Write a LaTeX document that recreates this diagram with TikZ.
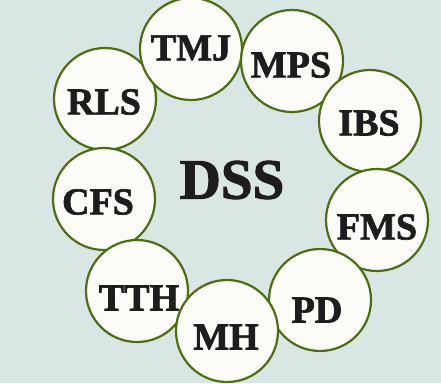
\documentclass[tikz,border=0pt]{standalone}
\usepackage{fontspec}
\setmainfont{Liberation Serif}[BoldFeatures={FakeBold=1.8}]
\definecolor{bg}{HTML}{DAE6E4}
\definecolor{ring}{HTML}{4A6E14}
\definecolor{disc}{HTML}{FCFBF7}
\definecolor{ink}{HTML}{1E1C1C}
\begin{document}
\begin{tikzpicture}[x=1pt,y=-1pt,
  bubble/.style={circle,draw=ring,line width=2.2pt,fill=disc,minimum size=102pt,inner sep=0pt},
  lbl/.style={font=\bfseries\fontsize{38}{38}\selectfont,text=ink,inner sep=0pt,anchor=center},
  hub/.style={font=\bfseries\fontsize{57}{57}\selectfont,text=ink,inner sep=0pt}]
\fill[bg] (0,0) rectangle (441,383);
\useasboundingbox (0,0) rectangle (441,383);
\node[bubble] (rls) at (105,99) {};
\node[bubble] (tmj) at (191,49) {};
\node[bubble] (mps) at (292,61) {};
\node[bubble] (ibs) at (370,121) {};
\node[bubble] (fms) at (377,220) {};
\node[bubble] (pd) at (320,300) {};
\node[bubble] (cfs) at (104,199) {};
\node[bubble] (tth) at (137,291) {};
\node[bubble] (mh) at (227,331) {};
\node[lbl] (trls) at (104,102) {RLS};
\node[lbl] (ttmj) at (191,48) {TMJ};
\node[lbl] (tmps) at (291,65) {MPS};
\node[lbl] (tibs) at (369,123) {IBS};
\node[lbl] (tfms) at (377,227) {FMS};
\node[lbl] (tpd) at (317,310) {PD};
\node[lbl] (tmh) at (226,337) {MH};
\node[lbl] (ttth) at (139,298) {TTH};
\node[lbl] (tcfs) at (98,202) {CFS};
\node[hub] (dss) at (232,180) {DSS};
\end{tikzpicture}
\end{document}
